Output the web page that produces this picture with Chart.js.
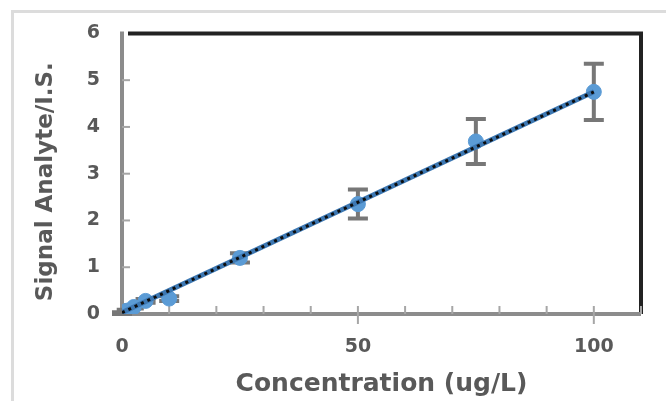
<!DOCTYPE html>
<html>
<head>
<meta charset="utf-8">
<script src="https://cdn.jsdelivr.net/npm/chart.js@4/dist/chart.umd.min.js"></script>
<style>
  html, body { margin: 0; padding: 0; background: #fff; }
  #wrap { position: absolute; left: 0; top: 0; width: 666px; height: 401px; filter: blur(0.4px); }
  #frame { position: absolute; left: 11px; top: 10px; width: 700px; height: 450px;
           border-top: 3px solid #dcdcdc; border-left: 3px solid #dcdcdc; }
</style>
</head>
<body>
<div id="frame"></div>
<div id="wrap"><canvas id="calib"></canvas></div>
<script>
// calibration data
const concentration = [0, 1, 2.5, 5, 10, 25, 50, 75, 100];
const signalRatio = [0.02, 0.07, 0.15, 0.28, 0.33, 1.2, 2.35, 3.69, 4.75];
const signalError = [0.02, 0.02, 0.03, 0.04, 0.05, 0.1, 0.31, 0.48, 0.6];

// linear trend line end points
const trendX = [0, 100];
const trendY = [0.03, 4.75];

const xTickLabels = [0, 50, 100];
const yTickLabels = [0, 1, 2, 3, 4, 5, 6];

const textGray = "#595959";
const fontFamily = "'DejaVu Sans', 'Liberation Sans', Arial";

// frame, tick marks and error bars, drawn under the markers
const framePlugin = {
    id: "framePlugin",
    beforeDatasetsDraw(chart) {
        const ctx = chart.ctx;
        const a = chart.chartArea;
        const xs = chart.scales.x;
        const ys = chart.scales.y;
        ctx.save();

        // top and right border (black)
        ctx.strokeStyle = "#222";
        ctx.lineWidth = 4;
        ctx.beginPath();
        ctx.moveTo(a.left + 6, a.top);
        ctx.lineTo(a.right, a.top);
        ctx.lineTo(a.right, a.bottom);
        ctx.stroke();

        // left and bottom axes (gray)
        ctx.strokeStyle = "#8c8c8c";
        ctx.beginPath();
        ctx.moveTo(a.left, a.top - 2);
        ctx.lineTo(a.left, a.bottom);
        ctx.lineTo(a.right, a.bottom);
        ctx.stroke();

        // tick marks
        ctx.lineWidth = 2;
        ctx.strokeStyle = "#a6a6a6";
        for (let v = 10; v <= 110; v += 10) {
            const px = xs.getPixelForValue(v);
            ctx.beginPath();
            if (xTickLabels.includes(v)) {
                ctx.moveTo(px, a.bottom - 8);
                ctx.lineTo(px, a.bottom + 10);
            } else {
                ctx.moveTo(px, a.bottom - 8);
                ctx.lineTo(px, a.bottom);
            }
            ctx.stroke();
        }
        for (let v = 1; v <= 5; v++) {
            const py = ys.getPixelForValue(v);
            ctx.beginPath();
            ctx.moveTo(a.left, py);
            ctx.lineTo(a.left + 8, py);
            ctx.stroke();
        }

        // error bars
        ctx.strokeStyle = "#777";
        ctx.lineWidth = 4;
        for (let i = 0; i < concentration.length; i++) {
            const px = xs.getPixelForValue(concentration[i]);
            const top = ys.getPixelForValue(signalRatio[i] + signalError[i]);
            const bot = ys.getPixelForValue(signalRatio[i] - signalError[i]);
            ctx.beginPath();
            ctx.moveTo(px, top);
            ctx.lineTo(px, bot);
            ctx.moveTo(px - 10, top);
            ctx.lineTo(px + 10, top);
            ctx.moveTo(px - 10, bot);
            ctx.lineTo(px + 10, bot);
            ctx.stroke();
        }
        ctx.restore();
    }
};

const trendPoints = trendX.map((x, i) => ({ x: x, y: trendY[i] }));

new Chart(document.getElementById("calib"), {
    type: "scatter",
    data: {
        datasets: [
            {
                label: "trend dots",
                data: trendPoints,
                showLine: true,
                borderColor: "#0d0d0d",
                borderWidth: 3,
                borderDash: [3, 4],
                pointRadius: 0,
                order: 0
            },
            {
                label: "trend",
                data: trendPoints,
                showLine: true,
                borderColor: "#3d78b3",
                borderWidth: 5,
                pointRadius: 0,
                order: 1
            },
            {
                label: "Signal",
                data: concentration.map((c, i) => ({ x: c, y: signalRatio[i] })),
                backgroundColor: "#5b9bd5",
                borderColor: "#5b9bd5",
                pointRadius: 7.5,
                order: 2
            }
        ]
    },
    options: {
        responsive: true,
        maintainAspectRatio: false,
        animation: false,
        layout: { padding: { left: 0, top: 31, right: 25, bottom: 0 } },
        plugins: {
            legend: { display: false },
            tooltip: { enabled: false }
        },
        scales: {
            x: {
                type: "linear",
                min: 0,
                max: 110,
                afterFit(scale) { scale.height = 87; },
                grid: { display: false, drawTicks: false },
                border: { display: false },
                ticks: {
                    stepSize: 10,
                    padding: 22,
                    color: textGray,
                    font: { family: fontFamily, size: 19, weight: "bold" },
                    callback: function (v) { return xTickLabels.includes(v) ? String(v) : ""; }
                },
                title: {
                    display: true,
                    text: "Concentration (ug/L)",
                    color: textGray,
                    padding: { top: 0, bottom: 2 },
                    font: { family: fontFamily, size: 25, weight: "bold" }
                }
            },
            y: {
                min: 0,
                max: 6,
                afterFit(scale) { scale.width = 122; },
                grid: { display: false, drawTicks: false },
                border: { display: false },
                ticks: {
                    stepSize: 1,
                    padding: 22,
                    color: textGray,
                    font: { family: fontFamily, size: 19, weight: "bold" },
                    callback: function (v) { return yTickLabels.includes(v) ? String(v) : ""; }
                },
                title: {
                    display: true,
                    text: "Signal Analyte/I.S.  ",
                    color: textGray,
                    padding: { top: 32, bottom: 0 },
                    font: { family: fontFamily, size: 23, weight: "bold" }
                }
            }
        }
    },
    plugins: [framePlugin]
});
</script>
</body>
</html>
